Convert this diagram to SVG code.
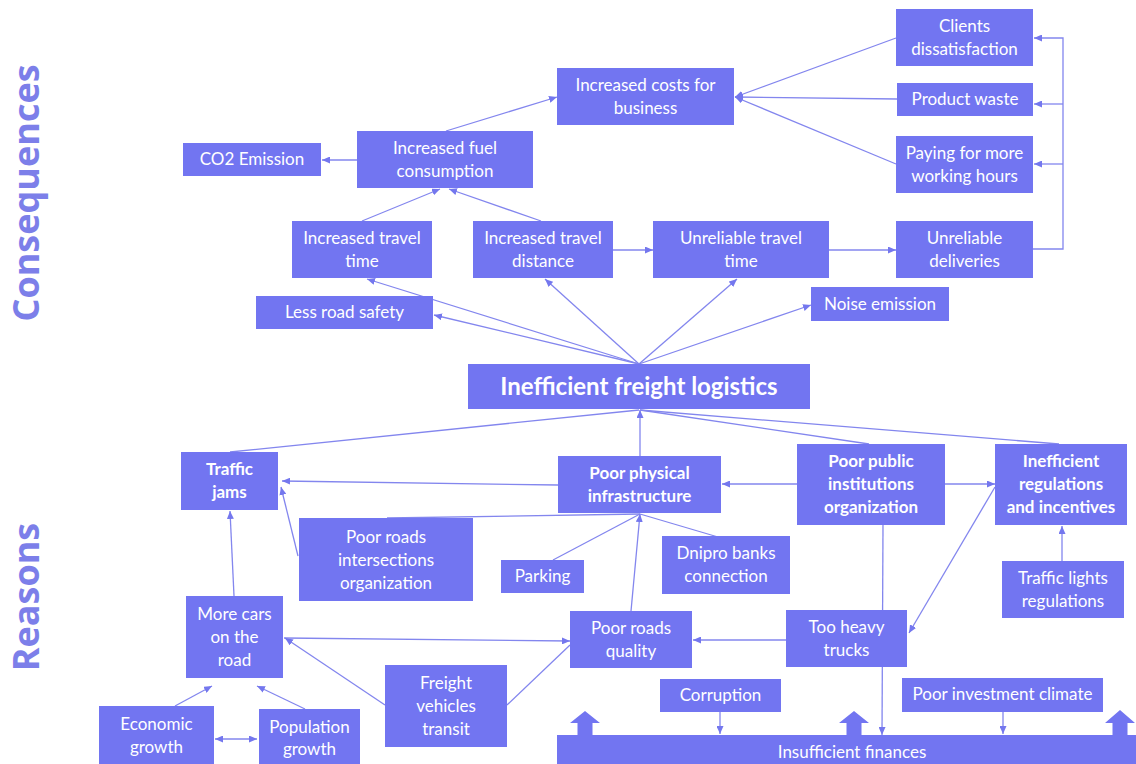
<svg xmlns="http://www.w3.org/2000/svg" width="1136" height="764" viewBox="0 0 1136 764">
<defs>
<style>
.b{fill:#7275f1;}
.t{font-family:Lato,"Open Sans",sans-serif;font-size:17px;fill:#ffffff;text-anchor:middle;}
.tb{font-family:Lato,"Open Sans",sans-serif;font-size:17px;font-weight:bold;fill:#ffffff;text-anchor:middle;}
.big{font-family:Lato,"Open Sans",sans-serif;font-size:24px;font-weight:bold;fill:#ffffff;text-anchor:middle;}
.side{font-family:"Open Sans","Noto Sans",sans-serif;font-size:36px;font-weight:bold;fill:#7c7fe9;text-anchor:middle;}
.c{fill:none;stroke:#8386ee;stroke-width:1.3;}
.a{marker-end:url(#ah);}
</style>
<marker id="ah" markerWidth="9" markerHeight="7" refX="8" refY="3.5" orient="auto" markerUnits="userSpaceOnUse">
<path d="M0,0 L8,3.5 L0,7 z" fill="#7477ee"/>
</marker>
<marker id="as" markerWidth="9" markerHeight="7" refX="0" refY="3.5" orient="auto" markerUnits="userSpaceOnUse">
<path d="M8,0 L0,3.5 L8,7 z" fill="#7477ee"/>
</marker>
</defs>
<rect width="1136" height="764" fill="#ffffff"/>
<text class="side" transform="translate(39,193) rotate(-90)">Consequences</text>
<text class="side" transform="translate(39,597) rotate(-90)">Reasons</text>

<g id="connectors">
<path class="c a" d="M446,131 L557,97"/>
<path class="c a" d="M896,38 L735,97"/>
<path class="c a" d="M897,99 L735,97"/>
<path class="c a" d="M896,164 L735,97"/>
<path class="c a" d="M1033,249 L1063,249 L1063,38 L1034,38"/>
<path class="c a" d="M1063,104 L1034,104"/>
<path class="c a" d="M1063,164 L1034,164"/>
<path class="c a" d="M357,160 L322,160"/>
<path class="c a" d="M362,221 L440,189"/>
<path class="c a" d="M541,221 L449,189"/>
<path class="c a" d="M613,250 L653,250"/>
<path class="c a" d="M829,250 L896,250"/>
<path class="c a" d="M639,364 L367,279"/>
<path class="c a" d="M639,364 L434,315"/>
<path class="c a" d="M639,364 L545,279"/>
<path class="c a" d="M639,364 L737,279"/>
<path class="c a" d="M639,364 L811,305"/>
<path class="c" d="M230,452 L639,410"/>
<path class="c a" d="M640,456 L640,410"/>
<path class="c" d="M869,444 L640,410"/>
<path class="c" d="M1059,444 L640,410"/>
<path class="c a" d="M558,485 L282,481"/>
<path class="c a" d="M298,556 L281,487"/>
<path class="c" d="M387,518 L640,514"/>
<path class="c" d="M553,560 L640,514"/>
<path class="c" d="M718,537 L640,514"/>
<path class="c a" d="M631,611 L640,514"/>
<path class="c a" d="M797,484 L722,484"/>
<path class="c a" d="M945,484 L995,484"/>
<path class="c a" d="M995,487 L909,633"/>
<path class="c a" d="M1062,561 L1062,526"/>
<path class="c a" d="M786,640 L693,640"/>
<path class="c a" d="M883,525 L882,735"/>
<path class="c a" d="M720,712 L720,734"/>
<path class="c a" d="M1003,712 L1003,734"/>
<path class="c a" d="M234,596 L230,511"/>
<path class="c a" d="M175,706 L212,686"/>
<path class="c a" d="M305,709 L257,686"/>
<path class="c a" d="M215,739 L257,739" marker-start="url(#as)"/>
<path class="c a" d="M284,638 L570,641"/>
<path class="c a" d="M385,705 L285,638"/>
<path class="c" d="M507,705 L570,645"/>
</g>

<g id="clients"><rect class="b" x="896" y="9" width="137" height="57"/><text class="t" x="964.5" y="32">Clients</text><text class="t" x="964.5" y="55">dissatisfaction</text></g>
<g id="product-waste"><rect class="b" x="897" y="83" width="136" height="33"/><text class="t" x="965" y="105">Product waste</text></g>
<g id="paying"><rect class="b" x="896" y="136" width="137" height="57"/><text class="t" x="964.5" y="159">Paying for more</text><text class="t" x="964.5" y="182">working hours</text></g>
<g id="unreliable-deliveries"><rect class="b" x="896" y="221" width="137" height="57"/><text class="t" x="964.5" y="244">Unreliable</text><text class="t" x="964.5" y="267">deliveries</text></g>
<g id="costs"><rect class="b" x="557" y="68" width="177" height="57"/><text class="t" x="645.5" y="91">Increased costs for</text><text class="t" x="645.5" y="114">business</text></g>
<g id="fuel"><rect class="b" x="357" y="131" width="176" height="57"/><text class="t" x="445" y="154">Increased fuel</text><text class="t" x="445" y="177">consumption</text></g>
<g id="co2"><rect class="b" x="183" y="143" width="138" height="33"/><text class="t" x="252" y="165">CO2 Emission</text></g>
<g id="travel-time"><rect class="b" x="292" y="221" width="140" height="57"/><text class="t" x="362" y="244">Increased travel</text><text class="t" x="362" y="267">time</text></g>
<g id="travel-distance"><rect class="b" x="473" y="221" width="140" height="57"/><text class="t" x="543" y="244">Increased travel</text><text class="t" x="543" y="267">distance</text></g>
<g id="unreliable-time"><rect class="b" x="653" y="221" width="176" height="57"/><text class="t" x="741" y="244">Unreliable travel</text><text class="t" x="741" y="267">time</text></g>
<g id="road-safety"><rect class="b" x="256" y="296" width="177" height="33"/><text class="t" x="344.5" y="318">Less road safety</text></g>
<g id="noise"><rect class="b" x="811" y="287" width="138" height="34"/><text class="t" x="880" y="310">Noise emission</text></g>
<g id="logistics"><rect class="b" x="468" y="364" width="342" height="45"/><text class="big" x="639" y="395">Inefficient freight logistics</text></g>

<g id="traffic-jams"><rect class="b" x="181" y="452" width="97" height="58"/><text class="tb" x="229.5" y="475">Traffic</text><text class="tb" x="229.5" y="498">jams</text></g>
<g id="physical"><rect class="b" x="558" y="456" width="163" height="57"/><text class="tb" x="639.5" y="479">Poor physical</text><text class="tb" x="639.5" y="502">infrastructure</text></g>
<g id="institutions"><rect class="b" x="797" y="444" width="148" height="81"/><text class="tb" x="871" y="467">Poor public</text><text class="tb" x="871" y="490">institutions</text><text class="tb" x="871" y="513">organization</text></g>
<g id="regulations"><rect class="b" x="995" y="444" width="132" height="81"/><text class="tb" x="1061" y="467">Inefficient</text><text class="tb" x="1061" y="490">regulations</text><text class="tb" x="1061" y="513">and incentives</text></g>
<g id="intersections"><rect class="b" x="299" y="518" width="174" height="83"/><text class="t" x="386" y="543">Poor roads</text><text class="t" x="386" y="566">intersections</text><text class="t" x="386" y="589">organization</text></g>
<g id="parking"><rect class="b" x="501" y="560" width="83" height="33"/><text class="t" x="542.5" y="582">Parking</text></g>
<g id="dnipro"><rect class="b" x="662" y="536" width="128" height="58"/><text class="t" x="726" y="559">Dnipro banks</text><text class="t" x="726" y="582">connection</text></g>
<g id="traffic-lights"><rect class="b" x="1002" y="561" width="122" height="57"/><text class="t" x="1063" y="584">Traffic lights</text><text class="t" x="1063" y="607">regulations</text></g>
<g id="more-cars"><rect class="b" x="186" y="596" width="97" height="82"/><text class="t" x="234.5" y="620">More cars</text><text class="t" x="234.5" y="643">on the</text><text class="t" x="234.5" y="666">road</text></g>
<g id="roads-quality"><rect class="b" x="570" y="611" width="122" height="57"/><text class="t" x="631" y="634">Poor roads</text><text class="t" x="631" y="657">quality</text></g>
<g id="heavy-trucks"><rect class="b" x="786" y="610" width="121" height="57"/><text class="t" x="846.5" y="633">Too heavy</text><text class="t" x="846.5" y="656">trucks</text></g>
<g id="freight-transit"><rect class="b" x="385" y="665" width="122" height="82"/><text class="t" x="446" y="689">Freight</text><text class="t" x="446" y="712">vehicles</text><text class="t" x="446" y="735">transit</text></g>
<g id="economic"><rect class="b" x="99" y="706" width="115" height="58"/><text class="t" x="156.5" y="730">Economic</text><text class="t" x="156.5" y="753">growth</text></g>
<g id="population"><rect class="b" x="259" y="709" width="101" height="55"/><text class="t" x="309.5" y="733">Population</text><text class="t" x="309.5" y="755">growth</text></g>
<g id="corruption"><rect class="b" x="660" y="679" width="121" height="33"/><text class="t" x="720.5" y="701">Corruption</text></g>
<g id="investment"><rect class="b" x="902" y="678" width="201" height="34"/><text class="t" x="1002.5" y="700">Poor investment climate</text></g>
<g id="finances">
<rect class="b" x="557" y="735" width="579" height="29"/>
<polygon class="b" points="585,711 600,723 592.5,723 592.5,736 577.5,736 577.5,723 570,723"/>
<polygon class="b" points="854,711 869,723 861.5,723 861.5,736 846.5,736 846.5,723 839,723"/>
<polygon class="b" points="1120,710 1135,723 1127.5,723 1127.5,736 1112.5,736 1112.5,723 1105,723"/>
<text class="t" x="852" y="758">Insufficient finances</text>
</g>
</svg>
